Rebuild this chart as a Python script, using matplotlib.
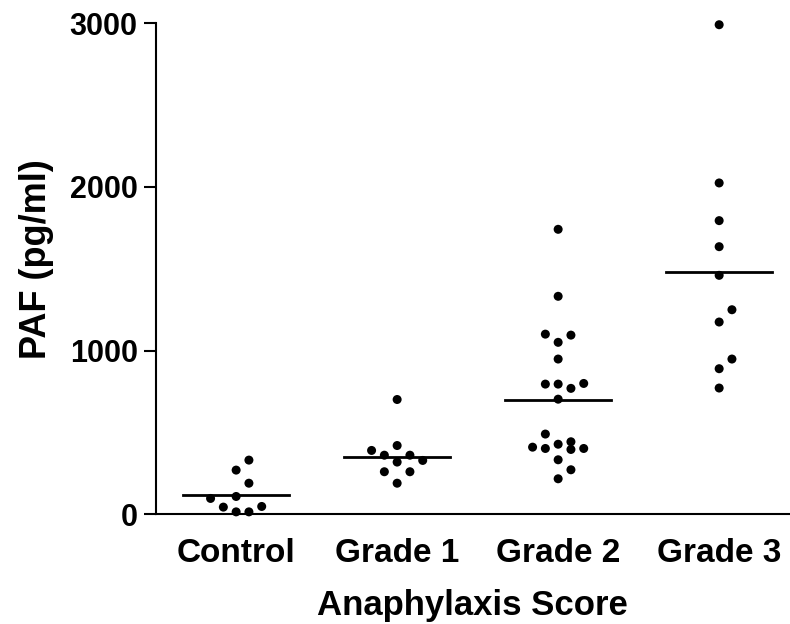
import numpy as np
import matplotlib
matplotlib.use('Agg')
import matplotlib.pyplot as plt

plt.rcParams['font.family'] = ['Liberation Sans', 'DejaVu Sans']
plt.rcParams['font.weight'] = 'bold'

# Data
groups = ['Control', 'Grade 1', 'Grade 2', 'Grade 3']
control = [16, 16, 45, 49, 98, 110, 191, 271, 332]
grade1 = [191, 261, 261, 320, 330, 362, 362, 391, 421, 702]
grade2 = [218, 273, 334, 397, 403, 403, 411, 429, 444, 491, 704,
          770, 796, 796, 800, 949, 1051, 1095, 1101, 1332, 1741]
grade3 = [772, 890, 949, 1175, 1250, 1460, 1635, 1794, 2024, 2990]
center_lines = [116, 350, 700, 1480]
yticks = [0, 1000, 2000, 3000]


def slot_offsets(vals, thresh=86):
    # column-scatter style: put each point in the nearest free slot
    vals = np.asarray(vals, dtype=float)
    cols = {}
    off = np.zeros(len(vals))
    for i in np.argsort(vals, kind='stable'):
        v = vals[i]
        best, best_gap = 0, -1
        for c in [0, 1, -1, 2, -2]:
            gap = min((abs(v - u) for u in cols.get(c, [])), default=np.inf)
            if gap >= thresh:
                best = c
                break
            if gap > best_gap:
                best_gap, best = gap, c
        cols.setdefault(best, []).append(v)
        off[i] = best
    return off


fig = plt.figure(figsize=(7.9, 6.24), dpi=100)
ax = fig.add_axes([0.197, 0.1755, 0.803, 0.7875])

step = 0.0794
for i, vals in enumerate([control, grade1, grade2, grade3]):
    x = i + slot_offsets(vals) * step
    ax.scatter(x, vals, s=42, color='black', zorder=3, clip_on=False,
               edgecolors='none')
    ax.plot([i - 0.33, i + 0.33], [center_lines[i]] * 2, color='black',
            linewidth=2, zorder=2)

ax.set_xlim(-0.5, 3.44)
ax.set_ylim(0, 3000)
ax.set_xticks(range(len(groups)))
ax.set_xticklabels(groups)
ax.set_yticks(yticks)

ax.spines['top'].set_visible(False)
ax.spines['right'].set_visible(False)
ax.spines['left'].set_linewidth(1.5)
ax.spines['bottom'].set_linewidth(1.5)
ax.tick_params(axis='x', length=0, pad=17, labelsize=24)
ax.tick_params(axis='y', length=8.4, width=1.5, pad=4.5, labelsize=22)

ax.set_xlabel('Anaphylaxis Score', fontsize=25, fontweight='bold', labelpad=14)
ax.set_ylabel('PAF (pg/ml)', fontsize=26, fontweight='bold')
ax.yaxis.set_label_coords(-0.16, 0.52)

fig.savefig('out.png', dpi=100)
